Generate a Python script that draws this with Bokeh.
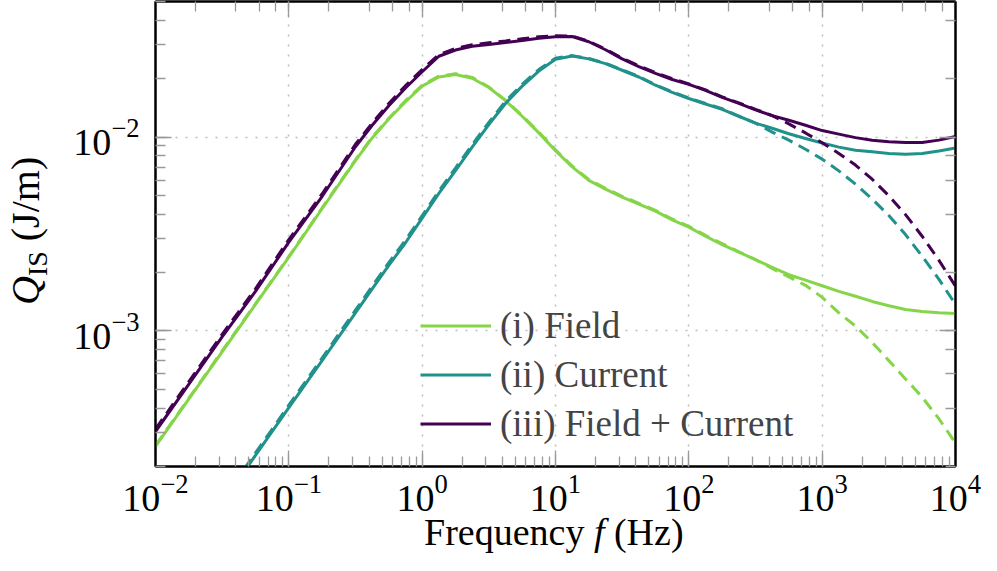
import numpy as np
from bokeh.plotting import figure
from bokeh.layouts import row, column
from bokeh.models import Range1d, LogAxis, Legend, LegendItem, Div
from bokeh.embed import file_html
from bokeh.resources import INLINE

nan = float("nan")

# Frequency samples (Hz)
freq_hz = [0.01, 0.0178, 0.0316, 0.0562, 0.1, 0.178, 0.316, 0.422, 0.562, 0.750,
           1.0, 1.334, 1.778, 2.371, 3.162, 4.217, 5.623, 7.499, 10.0, 13.34,
           17.78, 23.71, 31.62, 42.17, 56.23, 74.99, 100.0, 133.4, 177.8, 237.1,
           316.2, 421.7, 562.3, 749.9, 1000.0, 1334.0, 1778.0, 2371.0, 3162.0, 4217.0,
           5623.0, 7499.0, 10000.0]

# (i) Field
field_full = [2.54e-4, 4.46e-4, 7.81e-4, 1.37e-3, 2.40e-3, 4.28e-3, 7.55e-3, 9.89e-3, 1.24e-2, 1.52e-2,
              1.83e-2, 2.04e-2, 2.10e-2, 2.01e-2, 1.80e-2, 1.54e-2, 1.28e-2, 1.05e-2, 8.51e-3, 7.02e-3,
              5.98e-3, 5.39e-3, 4.90e-3, 4.51e-3, 4.15e-3, 3.74e-3, 3.43e-3, 3.08e-3, 2.79e-3, 2.55e-3,
              2.33e-3, 2.13e-3, 1.95e-3, 1.83e-3, 1.71e-3, 1.60e-3, 1.51e-3, 1.42e-3, 1.35e-3, 1.29e-3,
              1.26e-3, 1.24e-3, 1.23e-3]
field_dashed = [2.57e-4, 4.50e-4, 7.89e-4, 1.38e-3, 2.42e-3, 4.32e-3, 7.63e-3, 9.99e-3, 1.25e-2, 1.54e-2,
                1.85e-2, 2.06e-2, 2.12e-2, 2.03e-2, 1.81e-2, 1.55e-2, 1.29e-2, 1.06e-2, 8.59e-3, 7.09e-3,
                6.04e-3, 5.44e-3, 4.95e-3, 4.55e-3, 4.19e-3, 3.78e-3, 3.46e-3, 3.11e-3, 2.82e-3, 2.56e-3,
                2.33e-3, 2.10e-3, 1.90e-3, 1.72e-3, 1.49e-3, 1.24e-3, 1.06e-3, 8.73e-4, 7.03e-4, 5.66e-4,
                4.56e-4, 3.53e-4, 2.64e-4]

# (ii) Current
current_full = [nan, nan, 1.30e-4, 2.28e-4, 4.02e-4, 7.06e-4, 1.24e-3, 1.65e-3, 2.18e-3, 2.85e-3,
                3.82e-3, 5.12e-3, 6.72e-3, 8.86e-3, 1.16e-2, 1.49e-2, 1.83e-2, 2.19e-2, 2.52e-2, 2.62e-2,
                2.53e-2, 2.39e-2, 2.21e-2, 2.04e-2, 1.85e-2, 1.70e-2, 1.58e-2, 1.48e-2, 1.39e-2, 1.28e-2,
                1.18e-2, 1.11e-2, 1.04e-2, 9.83e-3, 9.31e-3, 8.87e-3, 8.55e-3, 8.40e-3, 8.23e-3, 8.16e-3,
                8.23e-3, 8.47e-3, 8.78e-3]
current_dashed = [nan, nan, 1.34e-4, 2.35e-4, 4.14e-4, 7.27e-4, 1.28e-3, 1.70e-3, 2.25e-3, 2.94e-3,
                  3.93e-3, 5.27e-3, 6.92e-3, 9.13e-3, 1.19e-2, 1.53e-2, 1.87e-2, 2.23e-2, 2.55e-2, 2.63e-2,
                  2.54e-2, 2.40e-2, 2.22e-2, 2.05e-2, 1.86e-2, 1.71e-2, 1.59e-2, 1.49e-2, 1.40e-2, 1.28e-2,
                  1.18e-2, 1.06e-2, 9.64e-3, 8.65e-3, 7.69e-3, 6.69e-3, 5.72e-3, 4.79e-3, 3.94e-3, 3.14e-3,
                  2.43e-3, 1.85e-3, 1.37e-3]

# (iii) Field + Current
both_full = [3.03e-4, 5.32e-4, 9.33e-4, 1.60e-3, 2.87e-3, 4.95e-3, 8.91e-3, 1.15e-2, 1.45e-2, 1.79e-2,
             2.17e-2, 2.61e-2, 2.81e-2, 2.94e-2, 3.00e-2, 3.07e-2, 3.15e-2, 3.23e-2, 3.29e-2, 3.30e-2,
             3.10e-2, 2.82e-2, 2.53e-2, 2.31e-2, 2.13e-2, 1.98e-2, 1.87e-2, 1.74e-2, 1.60e-2, 1.49e-2,
             1.38e-2, 1.29e-2, 1.22e-2, 1.15e-2, 1.08e-2, 1.035e-2, 9.93e-3, 9.63e-3, 9.45e-3, 9.36e-3,
             9.37e-3, 9.64e-3, 1.006e-2]
both_dashed = [3.12e-4, 5.48e-4, 9.61e-4, 1.65e-3, 2.96e-3, 5.10e-3, 9.18e-3, 1.18e-2, 1.49e-2, 1.84e-2,
               2.23e-2, 2.66e-2, 2.86e-2, 2.99e-2, 3.06e-2, 3.13e-2, 3.21e-2, 3.29e-2, 3.33e-2, 3.32e-2,
               3.12e-2, 2.84e-2, 2.55e-2, 2.33e-2, 2.15e-2, 2.00e-2, 1.88e-2, 1.75e-2, 1.61e-2, 1.50e-2,
               1.39e-2, 1.29e-2, 1.17e-2, 1.05e-2, 9.35e-3, 8.23e-3, 7.17e-3, 6.06e-3, 4.98e-3, 3.98e-3,
               3.08e-3, 2.32e-3, 1.70e-3]

series_labels = ["(i) Field", "(ii) Current", "(iii) Field + Current"]
series_colors = ["#86d549", "#21918c", "#440154"]

FONT = "Liberation Serif"

YLAB_W = 60
MAIN_W, MAIN_H = 925, 524
XLAB_H = 44
TOTAL_H = MAIN_H + XLAB_H

p = figure(x_axis_type="log", y_axis_type="log",
           x_range=Range1d(1e-2, 1e4), y_range=Range1d(2e-4, 5e-2),
           width=MAIN_W, height=MAIN_H,
           min_border_left=95, min_border_right=30, min_border_top=1, min_border_bottom=58,
           output_backend="svg", toolbar_location=None,
           background_fill_color="white", border_fill_color="white")
p.margin = 0
p.outline_line_color = "black"
p.outline_line_width = 2

top_axis = LogAxis()
right_axis = LogAxis()
p.add_layout(top_axis, "above")
p.add_layout(right_axis, "right")
bottom_axis = p.below[0]
left_axis = p.left[0]


def style_axis(ax, labels):
    ax.axis_line_color = "black"
    ax.axis_line_width = 2
    ax.major_tick_in = 16
    ax.major_tick_out = 0
    ax.minor_tick_in = 10
    ax.minor_tick_out = 0
    ax.major_tick_line_color = "#9a9a9a"
    ax.minor_tick_line_color = "#9a9a9a"
    ax.major_tick_line_width = 1.3
    ax.minor_tick_line_width = 1.3
    if labels:
        ax.major_label_text_font = FONT
        ax.major_label_text_font_size = "38px"
        ax.major_label_text_color = "black"
    else:
        ax.major_label_text_font_size = "1px"
        ax.major_label_text_alpha = 0
        ax.major_label_standoff = 0
        ax.axis_label_standoff = 0


style_axis(bottom_axis, True)
style_axis(left_axis, True)
style_axis(top_axis, False)
style_axis(right_axis, False)
bottom_axis.major_label_standoff = 8
left_axis.major_label_standoff = 16

for g in (p.xgrid[0], p.ygrid[0]):
    g.grid_line_color = "#bdbdbd"
    g.grid_line_width = 1.5
    g.grid_line_dash = "2 8"

f = np.asarray(freq_hz, dtype=float)
items = []
for full, dashed, col, lab in zip([field_full, current_full, both_full],
                                  [field_dashed, current_dashed, both_dashed],
                                  series_colors, series_labels):
    r = p.line(f, np.asarray(full, dtype=float), line_color=col, line_width=3, line_join="round")
    p.line(f, np.asarray(dashed, dtype=float), line_color=col, line_width=3, line_dash="12 7")
    items.append(LegendItem(label=lab, renderers=[r]))

legend = Legend(items=items, location=(265, 18))
legend.label_text_font = FONT
legend.label_text_font_size = "37px"
legend.glyph_width = 71
legend.glyph_height = 49
legend.label_height = 49
legend.spacing = 0
legend.padding = 0
legend.margin = 0
legend.label_standoff = 9
legend.border_line_color = None
legend.background_fill_alpha = 0
p.add_layout(legend)

div_styles = {"font-family": FONT, "color": "black", "overflow": "visible"}

x_title = Div(
    text=('<div style="position:relative; left:364px; top:0px; line-height:16px; '
          'font-size:38px; white-space:nowrap;">Frequency <i>f</i> (Hz)</div>'),
    width=MAIN_W, height=XLAB_H, margin=0, styles=div_styles)

y_title = Div(
    text=('<div style="position:relative; left:18px; top:305px; line-height:16px; '
          'font-size:40px; white-space:nowrap; display:inline-block; '
          'transform:rotate(-90deg); transform-origin:0 0;">'
          '<i>Q</i><span style="font-size:28px; position:relative; top:8px;">IS</span> (J/m)</div>'),
    width=YLAB_W, height=TOTAL_H, margin=0, styles=div_styles)

layout = row(y_title, column(p, x_title, spacing=0), spacing=0)

open("out.html", "w").write(file_html(layout, INLINE))
